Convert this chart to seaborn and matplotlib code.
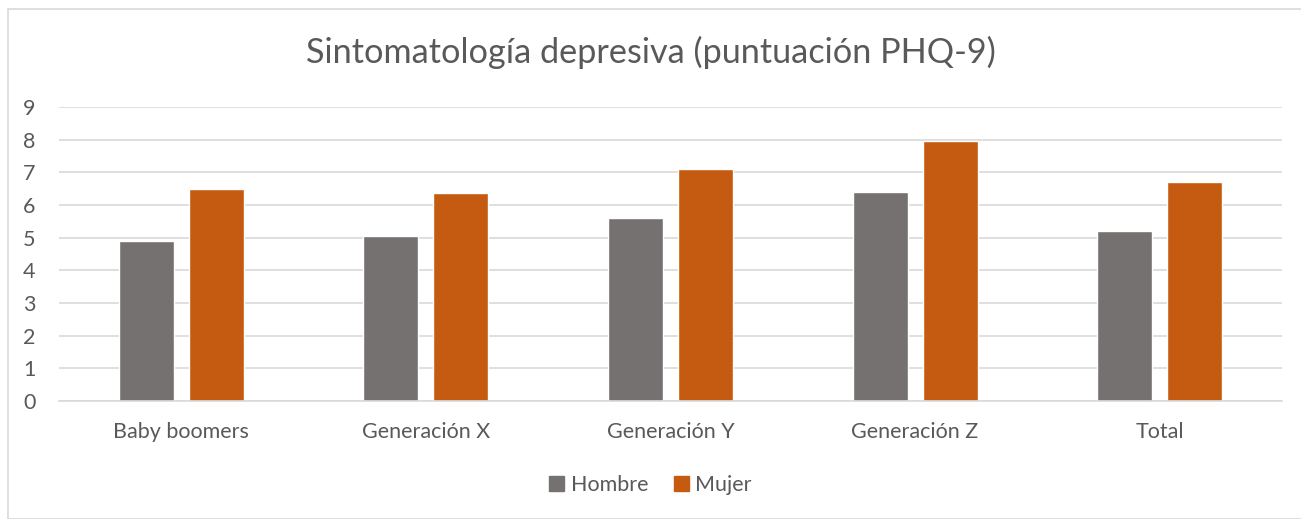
#depression score bar chart by generation and sex
import pandas as pd
import matplotlib.pyplot as plt
import matplotlib.patches as mpatches
import seaborn as sns

categories = ['Baby boomers', 'Generación X', 'Generación Y', 'Generación Z', 'Total']
hombre = [4.89, 5.06, 5.61, 6.41, 5.20]
mujer = [6.49, 6.38, 7.11, 7.95, 6.71]
series = ['Hombre', 'Mujer']
colors = ['#767171', '#C55A11']
yticks = list(range(0, 10))

df = pd.DataFrame({
    'Generacion': categories * 2,
    'Sexo': ['Hombre'] * len(categories) + ['Mujer'] * len(categories),
    'Puntuacion': hombre + mujer,
})

sns.set_theme(style="white")
plt.rcParams['font.family'] = ['Lato', 'DejaVu Sans']
text_color = '#595959'

fig = plt.figure(figsize=(13.01, 5.19), dpi=100)
ax = fig.add_axes([59 / 1301, 1 - 401 / 519, (1282 - 59) / 1301, (401 - 107) / 519])

sns.barplot(data=df, x='Generacion', y='Puntuacion', hue='Sexo', order=categories,
            hue_order=series, palette=colors, width=0.572, gap=0.213,
            saturation=1, ax=ax, legend=True)

ax.set_ylim(0, 9)
ax.set_xlim(-0.5, len(categories) - 0.5)
ax.set_yticks(yticks)
ax.yaxis.grid(True, color='#d9d9d9', linewidth=1.2)
ax.set_axisbelow(True)
for s in ['top', 'right', 'left']:
    ax.spines[s].set_visible(False)
ax.spines['bottom'].set_color('#d9d9d9')
ax.spines['bottom'].set_linewidth(1.2)
ax.tick_params(axis='both', length=0, labelsize=15.5, colors=text_color)
ax.tick_params(axis='x', pad=15)
ax.tick_params(axis='y', pad=17)
ax.set_xlabel('')
ax.set_ylabel('')

fig.text(0.5, 1 - 52 / 519, 'Sintomatología depresiva (puntuación PHQ-9)',
         ha='center', va='center', fontsize=24.7, color=text_color)

handles = [mpatches.Patch(color=c, label=l) for c, l in zip(colors, series)]
ax.legend(handles=handles, loc='center', bbox_to_anchor=(0.5, 1 - 485 / 519),
          bbox_transform=fig.transFigure, ncol=2, frameon=False, fontsize=15.5,
          handlelength=0.7, handleheight=0.7, handletextpad=0.3, columnspacing=1.2,
          labelcolor=text_color)

# chart border
fig.patches.append(mpatches.Rectangle((8 / 1301, 0.5 / 519), 1300 / 1301, 510 / 519,
                                      transform=fig.transFigure, fill=False,
                                      edgecolor='#d9d9d9', linewidth=1.2))

plt.savefig('out.png', dpi=100)
